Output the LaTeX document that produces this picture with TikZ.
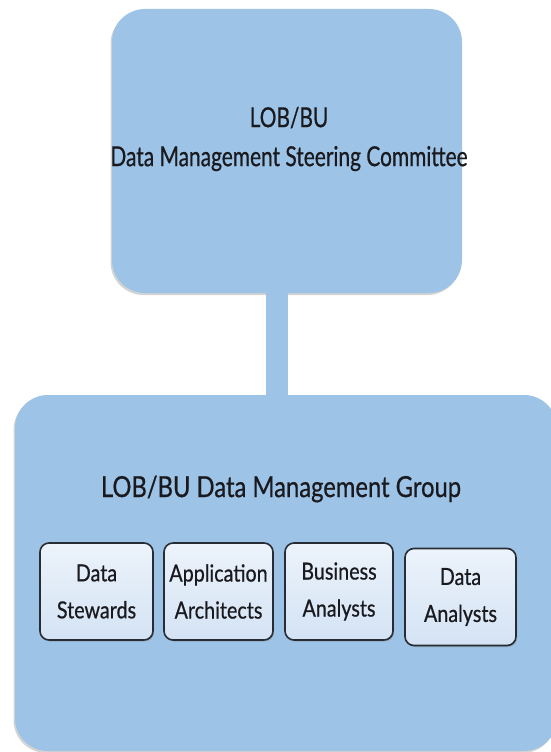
\documentclass[tikz,border=0pt]{standalone}
\usepackage{fontspec}
\setmainfont{Lato}
\newfontfamily\topfont[FakeStretch=0.76,FakeBold=0.6]{Lato}
\newfontfamily\groupfont[FakeStretch=0.82,FakeBold=0.6]{Lato}
\newfontfamily\subfont[FakeStretch=0.84,FakeBold=0.6]{Lato}
\usetikzlibrary{shadows}
\definecolor{boxblue}{RGB}{157,195,230}
\definecolor{subtop}{RGB}{236,243,251}
\definecolor{subbot}{RGB}{212,227,244}
\definecolor{subline}{RGB}{40,44,52}
\definecolor{ink}{RGB}{25,25,30}
\begin{document}
\begin{tikzpicture}[x=1pt,y=-1pt,
  bigbox/.style={fill=boxblue, draw=none, rounded corners=33pt, inner sep=0pt,
     drop shadow={shadow xshift=-1.5pt, shadow yshift=-2pt, opacity=0.35, fill=gray}},
  subbox/.style={draw=subline, line width=1.6pt, rounded corners=9pt,
     top color=subtop, bottom color=subbot, minimum height=97pt,
     align=center, inner sep=1pt, text=ink,
     font=\subfont\fontsize{23.5}{37}\selectfont,
     drop shadow={shadow xshift=1pt, shadow yshift=-1.5pt, opacity=0.4, fill=gray}},
  link/.style={draw=boxblue, line width=22pt}]
\useasboundingbox (0,0) rectangle (551,752);
\node[bigbox, minimum width=350pt, minimum height=284pt] (top) at (287,151) {};
\node[bigbox, minimum width=542pt, minimum height=356pt] (group) at (286,573) {};
\coordinate (lx) at (277,0);
\draw[link] (top.south -| lx) -- (group.north -| lx);
\node[align=center, text=ink, font=\topfont\fontsize{27.5}{39}\selectfont] (toptext) at (289,139) {LOB/BU\\Data Management Steering Committee};
\node[text=ink, font=\groupfont\fontsize{29}{32}\selectfont] (grouptext) at (281,489) {LOB/BU Data Management Group};
\node[subbox, minimum width=113pt] (ds) at (96.5,591.5) {Data\\Stewards};
\node[subbox, minimum width=109pt] (aa) at (218.5,591.5) {Application\\Architects};
\node[subbox, minimum width=108pt] (ba) at (339,591.5) {Business\\Analysts};
\node[subbox, minimum width=111pt] (da) at (460.5,597) {Data\\Analysts};
\end{tikzpicture}
\end{document}
